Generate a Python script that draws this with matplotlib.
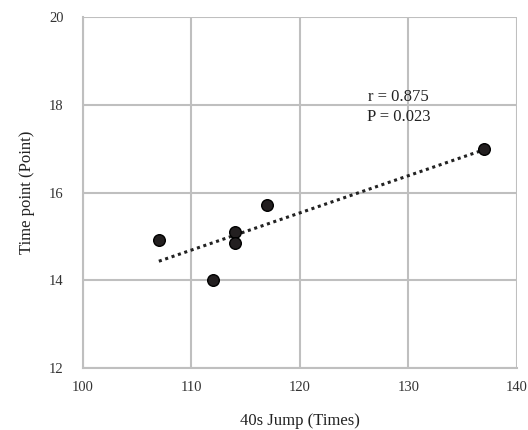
import matplotlib
matplotlib.use("Agg")
import matplotlib.pyplot as plt
import numpy as np

jump = [107, 112, 114, 114, 117, 137]
points = [14.93, 14.01, 15.11, 14.85, 15.72, 17.0]
x_ticks = [100, 110, 120, 130, 140]
y_ticks = [12, 14, 16, 18, 20]
annot = ["r = 0.875", "P = 0.023"]

plt.rcParams['font.family'] = ['Liberation Serif', 'DejaVu Serif']

fig = plt.figure(figsize=(5.28, 4.30), dpi=100)
ax = fig.add_axes([0.157, 0.144, 0.822, 0.816])

grid_c = '#BFBFBF'
ax.set_xlim(100, 140)
ax.set_ylim(12, 20)
ax.set_xticks(x_ticks)
ax.set_yticks(y_ticks)
ax.grid(True, color=grid_c, linewidth=1.5)
ax.set_axisbelow(True)
for s in ['top', 'right']:
    ax.spines[s].set_visible(False)
for s in ['left', 'bottom']:
    ax.spines[s].set_color(grid_c)
    ax.spines[s].set_linewidth(1.5)
ax.tick_params(length=0, labelsize=10.5, colors='#333333')
ax.tick_params(axis='y', pad=14)
ax.tick_params(axis='x', pad=9)

xs = np.array(jump, dtype=float)
ys = np.array(points, dtype=float)
m, b = np.polyfit(xs, ys, 1)
xl = np.array([xs.min(), xs.max()])
ax.plot(xl, m * xl + b, linestyle=(0, (1, 1.2)), color='#222222', linewidth=2.2, zorder=3)

ax.scatter(xs, ys, s=70, color='#231F20', edgecolors='black', linewidths=1.0, zorder=4)

ax.text(126.3, 18.18, annot[0], fontsize=12, color='#222222', va='center', ha='left')
ax.text(126.2, 17.72, annot[1], fontsize=12, color='#222222', va='center', ha='left')

ax.set_xlabel('40s Jump (Times)', fontsize=12, color='#222222', labelpad=14)
ax.set_ylabel('Time point (Point)', fontsize=12, color='#222222', labelpad=10)

fig.savefig('out.png', dpi=100)
